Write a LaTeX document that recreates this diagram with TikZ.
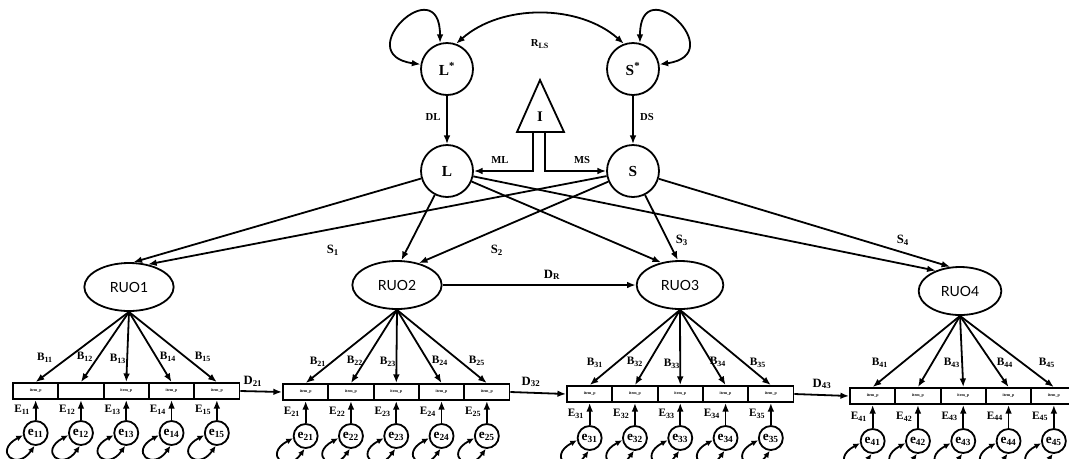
\documentclass[tikz,border=0pt]{standalone}
\usepackage{fontspec}
\setmainfont{Liberation Serif}
\newfontfamily\ruofont{Lato}
\usetikzlibrary{shapes.geometric,arrows.meta}
\begin{document}
\begin{tikzpicture}[x=0.75pt,y=-0.75pt,line width=1.35pt,
  >={Latex[length=6.5pt,width=5pt]},
  lat/.style={draw,circle,minimum size=39pt,inner sep=0pt,font=\bfseries\fontsize{11.5}{12}\selectfont},
  ruo/.style={draw,ellipse,minimum width=67pt,minimum height=36pt,inner sep=0pt,font=\ruofont\fontsize{10.5}{12}\selectfont},
  ind/.style={draw,rectangle,minimum width=34pt,minimum height=12pt,inner sep=0pt,font=\bfseries\fontsize{3}{3}\selectfont},
  err/.style={draw,circle,minimum size=18pt,inner sep=0pt,font=\bfseries\fontsize{10}{10}\selectfont},
  lab/.style={font=\bfseries\fontsize{8.5}{9}\selectfont,inner sep=1pt},
  dlab/.style={font=\bfseries\fontsize{9.5}{10}\selectfont,inner sep=1pt},
  small/.style={font=\bfseries\fontsize{8}{8}\selectfont,inner sep=1pt},
  var/.style={<->,>={Latex[length=5pt,width=4.5pt]}},
]
\clip (0,0) rectangle (1069,458);

% latent factors
\node[lat] (Ls) at (447,69) {L\textsuperscript{*}};
\node[lat] (Ss) at (633,69) {S\textsuperscript{*}};
\node[lat] (L) at (447,171) {L};
\node[lat] (S) at (633,171) {S};

% variances and covariance of the starred factors
\draw[<->] (Ls.105) .. controls +(0,-75) and +(-72,-10) .. (Ls.170);
\draw[<->] (Ss.75) .. controls +(0,-75) and +(72,-10) .. (Ss.10);
\draw[<->] (Ls.70) .. controls +(45,-40) and +(-45,-40) .. (Ss.110);
\node[small] (rls) at (540,44) {R\textsubscript{LS}};

% paths from starred factors
\draw[->] (Ls) -- (L);
\draw[->] (Ss) -- (S);
\node[small] (dl) at (433,117) {DL};
\node[small] (ds) at (647,117) {DS};

% intercept triangle
\coordinate (Ia) at (540,80);
\coordinate (Il) at (517,132);
\coordinate (Ir) at (564,132);
\draw[line join=miter] (Ia) -- (Il) -- (Ir) -- cycle;
\node[font=\bfseries\fontsize{11}{12}\selectfont,inner sep=0pt] (I) at (540,117) {I};
\coordinate (Iml) at (533,132);
\coordinate (Ims) at (545,132);
\draw[->] (Iml) |- (L.east);
\draw[->] (Ims) |- (S.west);
\node[small] (ml) at (500,160) {ML};
\node[small] (ms) at (582,160) {MS};

% RUO factors
\node[ruo] (R1) at (129,287) {RUO1};
\node[ruo] (R2) at (397,285) {RUO2};
\node[ruo,minimum width=65pt] (R3) at (680,285) {RUO3};
\node[ruo,minimum width=62pt] (R4) at (960,291) {RUO4};

\draw[->] (L) -- (R1.80);
\draw[->] (S) -- (R1.50);
\draw[->] (L) -- (R2.80);
\draw[->] (S) -- (R2.45);
\draw[->] (L) -- (R3.130);
\draw[->] (S) -- (R3.95);
\draw[->] (L) -- (R4.140);
\draw[->] (S) -- (R4.112);
\node[dlab] (s1) at (333,250) {S\textsubscript{1}};
\node[dlab] (s2) at (497,250) {S\textsubscript{2}};
\node[dlab] (s3) at (682,240) {S\textsubscript{3}};
\node[dlab] (s4) at (903,240) {S\textsubscript{4}};

\draw[->] (R2) -- (R3);
\node[dlab] (dr) at (552,275) {D\textsubscript{R}};

% indicator boxes, loadings and errors
\foreach \g/\x/\y/\ey in {1/13/391/433, 2/283/392/436, 3/567/394/438, 4/850/396/441} {
  \foreach \i in {1,...,5} {
    \node[ind] (b\g\i) at ({\x+45.3*(\i-0.5)},\y) {\ifnum\g\i=12 \else item\_p\fi};
    \draw[->] (R\g.south) -- (b\g\i.north);
    \node[err] (e\g\i) at (b\g\i.south |- 0,\ey) {e\textsubscript{\g\i}};
    \draw[->] (e\g\i) -- (b\g\i) node[midway,left=2.5pt,lab] (E\g\i) {E\textsubscript{\g\i}};
    \draw[var] (e\g\i.190) .. controls +(-30,16) and +(-18,26) .. (e\g\i.265);
  }
}

\foreach \n/\x/\y in {11/45/358, 12/85/357, 13/118/359, 14/168/357, 15/203/357,
  21/318/362, 22/355/361, 23/388/362, 24/440/361, 25/477/361,
  31/595/363, 32/635/362, 33/672/364, 34/718/362, 35/758/363,
  41/880/363, 43/952/363, 44/1005/363, 45/1047/363}
  \node[lab] (B\n) at (\x,\y) {B\textsubscript{\n}};

% carry-over paths between occasions
\draw[->] (b15.east) -- (b21.west);
\draw[->] (b25.east) -- (b31.west);
\draw[->] (b35.east) -- (b41.west);
\node[dlab] (d21) at (253,381) {D\textsubscript{21}};
\node[dlab] (d32) at (531,382) {D\textsubscript{32}};
\node[dlab] (d43) at (822,384) {D\textsubscript{43}};
\end{tikzpicture}
\end{document}
